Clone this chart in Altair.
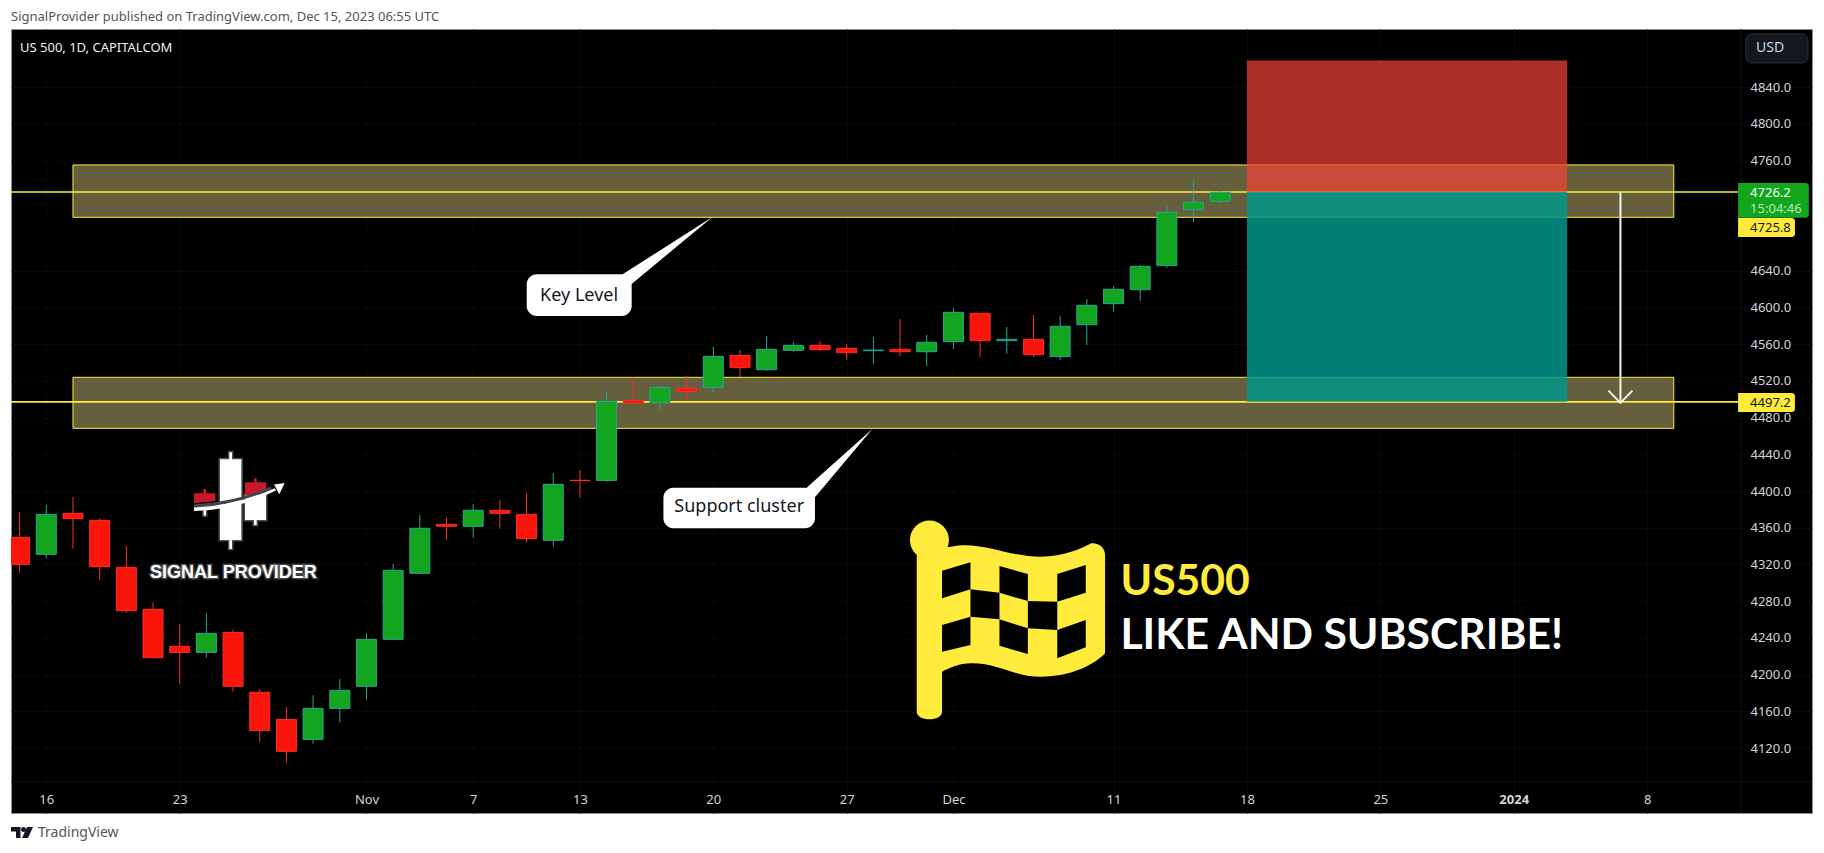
import altair as alt
import pandas as pd

# ---------- candles (bar index, price) ----------
idx = list(range(-1, 45))
high = [4377.2,4384.8,4393.5,4370.2,4340.1,4278.7,4255.1,4267.1,4249.3,4184.3,4164.7,4177.4,4195.2,4245.3,4320.5,4373.9,4371.3,4385.9,4390.2,4397.9,4419.6,4422.9,4509.0,4523.9,4514.4,4525.3,4556.9,4553.6,4568.9,4562.3,4563.5,4560.2,4567.8,4587.4,4570.0,4599.4,4593.6,4578.7,4591.8,4590.7,4609.2,4623.4,4646.3,4710.6,4738.9,4726.9]
body_top = [4349.5,4374.6,4375.7,4368.1,4316.9,4271.1,4230.8,4244.9,4246.0,4180.7,4151.2,4163.2,4182.8,4238.4,4313.6,4359.4,4363.7,4379.0,4379.0,4374.6,4407.3,4411.7,4497.7,4498.8,4512.9,4511.9,4546.7,4547.8,4554.4,4558.7,4558.7,4555.5,4553.6,4554.4,4562.0,4594.7,4593.6,4565.3,4565.3,4579.4,4602.3,4619.8,4644.8,4703.7,4714.6,4725.5]
body_bot = [4320.1,4331.0,4369.9,4317.6,4269.6,4218.4,4224.2,4224.2,4187.2,4139.2,4116.4,4129.4,4163.2,4187.2,4238.4,4310.3,4361.5,4361.5,4375.7,4348.1,4346.3,4411.3,4411.6,4495.9,4496.2,4508.6,4512.9,4534.4,4532.2,4553.3,4554.0,4550.7,4552.9,4551.8,4551.8,4562.7,4563.8,4563.8,4548.5,4546.4,4581.2,4604.2,4619.4,4645.6,4706.6,4715.7]
low = [4311.0,4326.3,4337.2,4303.4,4267.5,4218.4,4190.1,4218.4,4181.4,4126.9,4104.0,4124.7,4147.6,4172.7,4238.4,4308.9,4347.0,4349.2,4359.0,4343.7,4339.4,4392.8,4410.2,4495.2,4487.5,4499.5,4506.8,4523.9,4530.8,4551.8,4552.5,4542.7,4538.4,4547.1,4536.2,4554.7,4546.0,4549.6,4546.4,4542.7,4559.1,4595.5,4607.1,4643.4,4693.2,4712.8]
side = ["d","u","d","d","d","d","d","u","d","d","d","u","u","u","u","u","d","u","d","d","u","d","u","d","u","d","u","d","u","u","d","d","u","d","u","u","d","u","d","u","u","u","u","u","u","u"]

# ---------- axes ----------
price_ticks = [4840,4800,4760,4640,4600,4560,4520,4480,4440,4400,4360,4320,4280,4240,4200,4160,4120]
date_ticks = [0,5,12,16,20,25,30,34,40,45,50,55,60]
date_labels = ["16","23","Nov","7","13","20","27","Dec","11","18","25","2024","8"]

# ---------- drawings ----------
zone_x = [1.0, 61.0]
zone_hi = [4755.3, 4523.9]
zone_lo = [4698.2, 4468.3]
levels = [4725.8, 4497.2]
risk_x = [45.0, 57.0]
risk_top = 4869.0

X_MIN, X_MAX = -1.323, 66.18
Y_MIN, Y_MAX = 4049.2, 4903.4
FONT = "Noto Sans"

lookup = "{" + ",".join(f"'{t}':'{l}'" for t, l in zip(date_ticks, date_labels)) + "}"
x_scale = alt.Scale(domain=[X_MIN, X_MAX], nice=False, zero=False, padding=0)
y_scale = alt.Scale(domain=[Y_MIN, Y_MAX], nice=False, zero=False)
x_axis = alt.Axis(values=date_ticks, labelExpr=lookup + "[datum.value]", title=None, orient="bottom",
                  offset=-14, domain=False, ticks=False, labelPadding=0, labelBaseline="middle",
                  labelColor="#d1d4dc", labelFontSize=13, labelFont=FONT, labelOverlap=False,
                  labelFontWeight={"condition": {"test": "datum.value == 55", "value": "bold"}, "value": "normal"},
                  grid=True, gridColor="#080808", gridWidth=1)
y_axis = alt.Axis(values=price_ticks, format=".1f", title=None, orient="right",
                  offset=-62, domain=False, ticks=False, labelPadding=0, labelAlign="left",
                  labelColor="#d1d4dc", labelFontSize=13, labelFont=FONT, labelOverlap=False,
                  grid=True, gridColor="#080808", gridWidth=1)


def X(f):
    return alt.X(f, type="quantitative", scale=x_scale, axis=x_axis)


def Y(f):
    return alt.Y(f, type="quantitative", scale=y_scale, axis=y_axis)


def box(x0, x1, y0, y1, **mk):
    d = pd.DataFrame({"a": [x0], "b": [x1], "c": [y0], "e": [y1]})
    return alt.Chart(d).mark_rect(**mk).encode(x=X("a"), x2=alt.X2("b"), y=Y("c"), y2=alt.Y2("e"))


def txt(label, xi, p, size, color, align="left", font=FONT, weight="normal", **mk):
    d = pd.DataFrame({"a": [xi], "c": [p], "t": [label]})
    return alt.Chart(d).mark_text(align=align, baseline="middle", fontSize=size, color=color,
                                  font=font, fontWeight=weight, **mk).encode(x=X("a"), y=Y("c"), text="t:N")


def glyph(path, xi, p, color, scale=1.0, **mk):
    d = pd.DataFrame({"a": [xi], "c": [p]})
    return alt.Chart(d).mark_point(shape=path, size=(2 * scale) ** 2, filled=True, fill=color,
                                   opacity=1, **mk).encode(x=X("a"), y=Y("c"))


def tail(xs, tops, bots):
    d = pd.DataFrame({"a": xs, "c": tops, "e": bots})
    return alt.Chart(d).mark_area(color="white", opacity=1).encode(x=X("a"), y=Y("c"), y2=alt.Y2("e"))


def poly(points, fx, fy):
    return "M" + " L".join(f"{x / fx:.1f} {y / fy:.1f}" for x, y in points) + " Z"


candles = pd.DataFrame({"i": idx, "h": high, "t": body_top, "b": body_bot, "l": low, "s": side})
fills = alt.Scale(domain=["u", "d"], range=["#12a51d", "#fa140a"])
edges = alt.Scale(domain=["u", "d"], range=["#26a69a", "#f8302a"])

layers = []

# separators of the price and time panes
sep = pd.DataFrame({"a": [63.52], "c": [Y_MIN], "e": [Y_MAX]})
layers.append(alt.Chart(sep).mark_rule(color="#141414", strokeWidth=1).encode(x=X("a"), y=Y("c"), y2=alt.Y2("e")))
sep2 = pd.DataFrame({"a": [X_MIN], "b": [X_MAX], "c": [4083.0]})
layers.append(alt.Chart(sep2).mark_rule(color="#141414", strokeWidth=1).encode(x=X("a"), x2=alt.X2("b"), y=Y("c")))

# zones
for hi, lo in zip(zone_hi, zone_lo):
    layers.append(box(zone_x[0], zone_x[1], hi, lo, fill="#665f3d", stroke="#ffeb3b", strokeWidth=1))

# horizontal levels
lv = pd.DataFrame({"a": [X_MIN, X_MIN], "b": [63.41, 63.41], "c": levels})
layers.append(alt.Chart(lv).mark_rule(color="#ffeb3b", strokeWidth=1.7).encode(x=X("a"), x2=alt.X2("b"), y=Y("c")))

# short position box
layers.append(box(risk_x[0], risk_x[1], risk_top, levels[0], fill="#f44336", opacity=0.7))
layers.append(box(risk_x[0], risk_x[1], levels[0], levels[1], fill="#009688", opacity=0.85))

# candles
layers.append(alt.Chart(candles).mark_rule(strokeWidth=1).encode(
    x=X("i"), y=Y("h"), y2=alt.Y2("l"), color=alt.Color("s:N", scale=edges, legend=None)))
layers.append(alt.Chart(candles).mark_bar(size=20, orient="vertical", strokeWidth=1, clip=True).encode(
    x=X("i"), y=Y("t"), y2=alt.Y2("b"),
    fill=alt.Fill("s:N", scale=fills, legend=None),
    stroke=alt.Stroke("s:N", scale=edges, legend=None)))

# arrow
arrow = pd.DataFrame({"a": [59.0], "c": [levels[0]], "e": [levels[1]]})
layers.append(alt.Chart(arrow).mark_rule(color="#f5f5f0", strokeWidth=2).encode(x=X("a"), y=Y("c"), y2=alt.Y2("e")))
head = pd.DataFrame({"a": [58.55, 59.0, 59.45], "c": [4509.4, 4496.0, 4509.4]})
layers.append(alt.Chart(head).mark_line(color="#f5f5f0", strokeWidth=2).encode(x=X("a"), y=Y("c")))

# callouts
layers.append(tail([21.60, 21.94, 24.98], [4636.1, 4642.4, 4698.9], [4636.1, 4625.6, 4698.9]))
layers.append(box(18.006, 21.94, 4636.1, 4590.7, fill="white", cornerRadius=10))
layers.append(txt("Key Level", 19.97, 4612.8, 18, "#131722", align="center"))
layers.append(tail([28.50, 28.81, 30.96], [4403.6, 4411.7, 4467.6], [4403.6, 4393.2, 4467.6]))
layers.append(box(23.13, 28.81, 4403.6, 4359.4, fill="white", cornerRadius=10))
layers.append(txt("Support cluster", 25.97, 4382.6, 18, "#131722", align="center"))

# flag artwork
FX, FY = 2.178, 3.0
flag_pts = ("M{} {} L{} {} C{} {} {} {} {} {} C{} {} {} {} {} {} C{} {} {} {} {} {} L{} {} C{} {} {} {} {} {} "
            "C{} {} {} {} {} {} C{} {} {} {} {} {} L{} {} C{} {} {} {} {} {} Z")
flag_xy = [(80, 150), (155, 140), (215, 120), (280, 170), (350, 170), (400, 170), (440, 145), (460, 130),
           (478, 128), (490, 145), (490, 165), (490, 460), (470, 490), (420, 530), (350, 530), (290, 530),
           (260, 490), (200, 490), (170, 490), (150, 505), (135, 515), (135, 635), (135, 665), (80, 665), (80, 635)]
flag_path = flag_pts.format(*[round(v / (FX if k % 2 == 0 else FY), 1) for p in flag_xy for k, v in enumerate(p)])
cells = [
    [(135, 212), (197, 187), (197, 268), (135, 295)],
    [(260, 198), (322, 222), (322, 303), (260, 278)],
    [(386, 222), (448, 195), (448, 278), (386, 305)],
    [(197, 268), (260, 278), (260, 358), (197, 350)],
    [(322, 303), (386, 305), (386, 390), (322, 385)],
    [(135, 375), (197, 350), (197, 435), (135, 455)],
    [(260, 358), (322, 385), (322, 462), (260, 437)],
    [(386, 390), (448, 360), (448, 442), (386, 475)],
]
cell_path = " ".join(poly(c, FX, FY) for c in cells)
FLAG_I, FLAG_P = 31.25, 4390.2
layers.append(glyph(flag_path, FLAG_I, FLAG_P, "#ffeb3b"))
layers.append(glyph(cell_path, FLAG_I, FLAG_P, "#000000"))
ball = pd.DataFrame({"a": [33.1], "c": [4346.6]})
layers.append(alt.Chart(ball).mark_point(shape="circle", size=1520, filled=True, fill="#ffeb3b", opacity=1).encode(x=X("a"), y=Y("c")))
layers.append(txt("US500", 40.26, 4301.0, 42.7, "#ffeb3b", font="Lato", weight="bold"))
layers.append(txt("LIKE AND SUBSCRIBE!", 40.26, 4242.5, 42.7, "white", font="Lato", weight="bold"))

# signal provider logo
LOGO_I, LOGO_P, LS = 5.011, 4450.2, 1 / 3
logo_white = ("M120 43 H148 V22 H156 V43 H184 V285 H156 V312 H148 V285 H120 Z "
              "M195 150 H258 V225 H230 V240 H222 V225 H195 Z M71 190 H78 V212 H71 Z")
logo_red = "M195 112 H222 V100 H230 V112 H258 V140 L195 152 Z M42 145 H70 V132 H78 V145 H106 V168 L42 175 Z"
logo_dark = "M42 178 Q170 170 272 125 L276 132 Q170 182 42 188 Z"
logo_swoosh = "M42 188 Q170 182 284 130 L288 137 Q170 196 42 198 Z M314 114 L282 119 L298 148 Z"
layers.append(glyph(logo_white, LOGO_I, LOGO_P, "white", LS, stroke="white", strokeWidth=3, strokeOpacity=0.3))
layers.append(glyph(logo_red, LOGO_I, LOGO_P, "#c8192a", LS))
layers.append(glyph(logo_dark, LOGO_I, LOGO_P, "#44444e", LS))
layers.append(glyph(logo_swoosh, LOGO_I, LOGO_P, "white", LS))
layers.append(txt("SIGNAL PROVIDER", 7.01, 4311.2, 18, "white", align="center", font="Liberation Sans",
                  weight="bold", stroke="white", strokeWidth=3, strokeOpacity=0.25))

# price tags
layers.append(box(63.41, 66.06, 4735.6, 4697.8, fill="#11a61b", cornerRadiusTopRight=3, cornerRadiusBottomRight=3))
layers.append(box(63.41, 65.54, 4697.5, 4676.8, fill="#ffeb3b", cornerRadiusTopRight=3, cornerRadiusBottomRight=3))
layers.append(box(63.41, 65.54, 4506.9, 4486.2, fill="#ffeb3b", cornerRadiusTopRight=3, cornerRadiusBottomRight=3))
layers.append(txt("4726.2", 63.86, 4724.8, 13, "white"))
layers.append(txt("15:04:46", 63.86, 4706.9, 13, "#bfe6c0"))
layers.append(txt("4725.8", 63.86, 4686.6, 13, "#131722"))
layers.append(txt("4497.2", 63.86, 4496.2, 13, "#131722"))

# USD button
layers.append(box(63.7, 66.03, 4898.0, 4866.4, fill="#131722", stroke="#2a2e39", strokeWidth=1, cornerRadius=6))
layers.append(txt("USD", 64.08, 4882.2, 14, "#d1d4dc"))

# titles
layers.append(txt("US 500, 1D, CAPITALCOM", -0.986, 4883.0, 13, "#f0f0f0"))
layers.append(txt("SignalProvider published on TradingView.com, Dec 15, 2023 06:55 UTC", -1.323, 4916.5, 13, "#555555"))
layers.append(txt("TradingView", -0.311, 4027.4, 14, "#555555"))
tv_logo = "M0 0 H9.5 V11 H5 V4.5 H0 Z M10 2.5 A2.5 2.5 0 1 1 15 2.5 A2.5 2.5 0 1 1 10 2.5 Z M16 0 H22 L17 11 H11 Z"
layers.append(glyph(tv_logo, -1.323, 4033.9, "#131722"))

chart = (
    alt.layer(*layers)
    .properties(width=1801, height=784, background="white",
                padding={"left": 3, "top": 21, "right": 3, "bottom": 32},
                autosize=alt.AutoSizeParams(type="none"))
    .configure_view(fill="#000000", stroke="#8a8d95", strokeWidth=1)
)

chart.save("out.html", embed_options={"renderer": "svg", "actions": False})
